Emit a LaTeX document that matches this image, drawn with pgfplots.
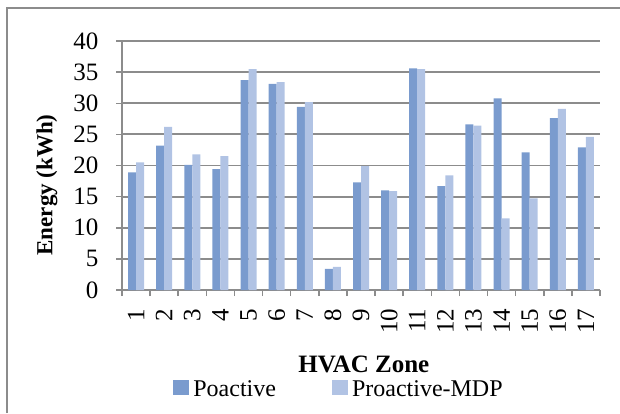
\documentclass[border=0pt]{standalone}
\usepackage{fontspec}
\setmainfont{Liberation Serif}
\usepackage{pgfplots}
\pgfplotsset{compat=1.18}
\definecolor{poact}{RGB}{122,155,206}
\definecolor{mdp}{RGB}{177,195,228}
\definecolor{gridgray}{RGB}{140,140,140}
\begin{document}
\begin{tikzpicture}[x=1pt,y=1pt]
\path[use as bounding box] (0,0) rectangle (620,413);
\draw[gridgray, line width=2pt] (7,0) -- (7,405) -- (620,405);
\begin{axis}[
  at={(122pt,123pt)}, anchor=south west,
  scale only axis, width=478pt, height=249pt,
  ybar=0pt, bar width=8pt,
  xmin=0.5, xmax=17.5, ymin=0, ymax=40,
  ytick={0,5,...,40},
  xtick={0.5,1.5,...,17.5}, xticklabels={},
  extra x ticks={1,...,17},
  extra x tick style={major tick length=0pt},
  axis x line*=bottom, axis y line*=left,
  axis line style={gridgray, line width=2.5pt, -},
  tick align=outside, major tick length=6pt,
  tick style={gridgray, line width=1.5pt},
  ymajorgrids, grid style={gridgray, line width=1.8pt},
  /pgf/number format/assume math mode=true,
  yticklabel style={font=\fontsize{25}{25}\selectfont, xshift=-14pt},
  xticklabel style={font=\fontsize{25}{25}\selectfont, yshift=-15pt, rotate=90, anchor=east},
  xlabel={\textbf{HVAC Zone}},
  ylabel={\textbf{Energy (kWh)}},
  xlabel style={font=\fontsize{25}{25}\selectfont, at={(axis description cs:0.506,-0.297)}, anchor=center},
  ylabel style={font=\fontsize{23}{23}\selectfont, at={(axis description cs:-0.157,0.422)}, anchor=center, rotate=0},
  legend style={at={(axis description cs:0.454,-0.398)}, anchor=center, draw=none,
    font=\fontsize{24}{24}\selectfont, legend columns=2,
    /tikz/every odd column/.append style={column sep=2pt},
    /tikz/every even column/.append style={column sep=54pt}},
  legend image code/.code={\fill[#1] (0pt,-6pt) rectangle (16pt,9pt);},
  legend cell align=left,
]
\addplot[fill=poact, draw=none] coordinates {
(1,18.9) (2,23.2) (3,20.1) (4,19.4) (5,33.7) (6,33.1) (7,29.4) (8,3.4) (9,17.3)
(10,16.0) (11,35.6) (12,16.7) (13,26.6) (14,30.8) (15,22.1) (16,27.6) (17,22.9)};
\addplot[fill=mdp, draw=none] coordinates {
(1,20.5) (2,26.2) (3,21.8) (4,21.5) (5,35.5) (6,33.4) (7,30.2) (8,3.7) (9,19.9)
(10,15.9) (11,35.5) (12,18.4) (13,26.4) (14,11.5) (15,14.7) (16,29.1) (17,24.6)};
\legend{Poactive, Proactive-MDP}
\end{axis}
\end{tikzpicture}
\end{document}
